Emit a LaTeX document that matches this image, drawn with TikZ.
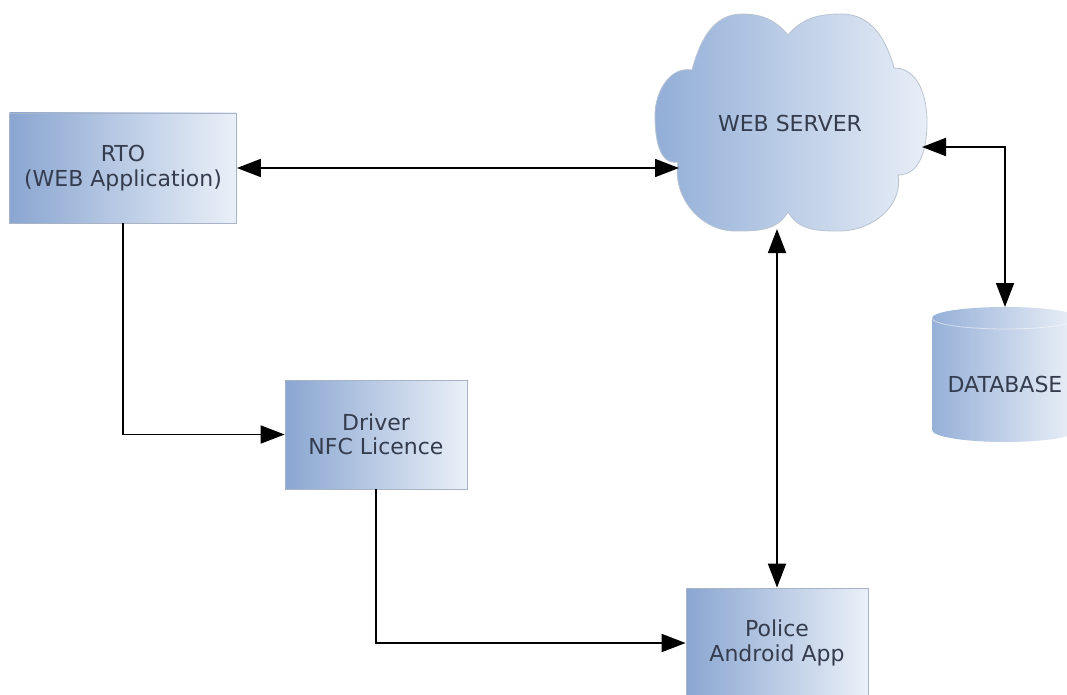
\documentclass[tikz,border=0pt]{standalone}
\usepackage{fontspec}
\setmainfont{DejaVu Sans}
\usetikzlibrary{arrows.meta}
\definecolor{txt}{RGB}{52,60,78}
\definecolor{bl}{RGB}{138,166,209}
\definecolor{br}{RGB}{234,240,248}
\definecolor{bd}{RGB}{168,180,198}
\begin{document}
\begin{tikzpicture}[x=1pt,y=1pt,
  box/.style={draw=bd, line width=0.8pt, left color=bl, right color=br,
    text=txt, align=center, inner sep=0pt,
    font=\fontsize{22}{24.5}\selectfont},
  lbl/.style={text=txt, align=center, font=\fontsize{22}{24.5}\selectfont},
  arr/.style={line width=1.8pt, -{Triangle[length=24pt,width=18pt]}},
  arr2/.style={line width=1.8pt, {Triangle[length=24pt,width=18pt]}-{Triangle[length=24pt,width=18pt]}}]
\useasboundingbox (0,0) rectangle (1067,-695);
\fill[white] (0,0) rectangle (1067,-695);
\begin{scope}
\clip (0,0) rectangle (1067,-695);
% cloud
\path[draw=bd!80, line width=0.8pt, left color={rgb,255:red,146;green,174;blue,215}, right color={rgb,255:red,232;green,238;blue,247}]
  (788,-35) to[out=130,in=0] (742,-14) to[out=180,in=75] (692,-70)
  to[out=170,in=90] (655,-115) to[out=-90,in=190] (678,-162)
  to[out=-100,in=180] (735,-231) to[out=0,in=-120] (788,-212)
  to[out=-60,in=180] (840,-231) to[out=0,in=-80] (898,-175)
  to[out=0,in=-90] (927,-122) to[out=90,in=0] (894,-68)
  to[out=105,in=0] (842,-14) to[out=180,in=50] (788,-35) -- cycle;
\node[lbl] (ws) at (790,-123) {WEB SERVER};
\coordinate (wsW) at (679,-168);
\coordinate (wsS) at (777,-229);
\coordinate (wsE) at (922,-147);
% database
\path[left color={rgb,255:red,150;green,176;blue,216}, right color={rgb,255:red,236;green,241;blue,248}]
  (932,-318) -- (932,-430) arc[start angle=180,end angle=360,x radius=73,y radius=12]
  -- (1078,-318) arc[start angle=0,end angle=180,x radius=73,y radius=11] -- cycle;
\draw[white, opacity=0.5, line width=0.8pt] (932,-318) arc[start angle=180,end angle=360,x radius=73,y radius=11];
\node[lbl] (db) at (1005,-384) {DATABASE};
\coordinate (dbN) at (1005,-307);
% boxes
\node[box, minimum width=227pt, minimum height=110pt] (rto) at (123,-168) {RTO\\(WEB Application)};
\node[box, minimum width=182pt, minimum height=109pt] (drv) at (376,-434.5) {Driver\\NFC Licence};
\node[box, minimum width=182pt, minimum height=110pt] (pol) at (777,-643) {Police\\Android App};
% connectors
\draw[arr2] (rto.east) -- (wsW);
\draw[arr] (rto.south) |- (drv.west);
\draw[arr] (drv.south) |- (pol.west);
\draw[arr2] (wsS) -- (pol.north);
\draw[arr2] (wsE) -| (dbN);
\end{scope}
\end{tikzpicture}
\end{document}
